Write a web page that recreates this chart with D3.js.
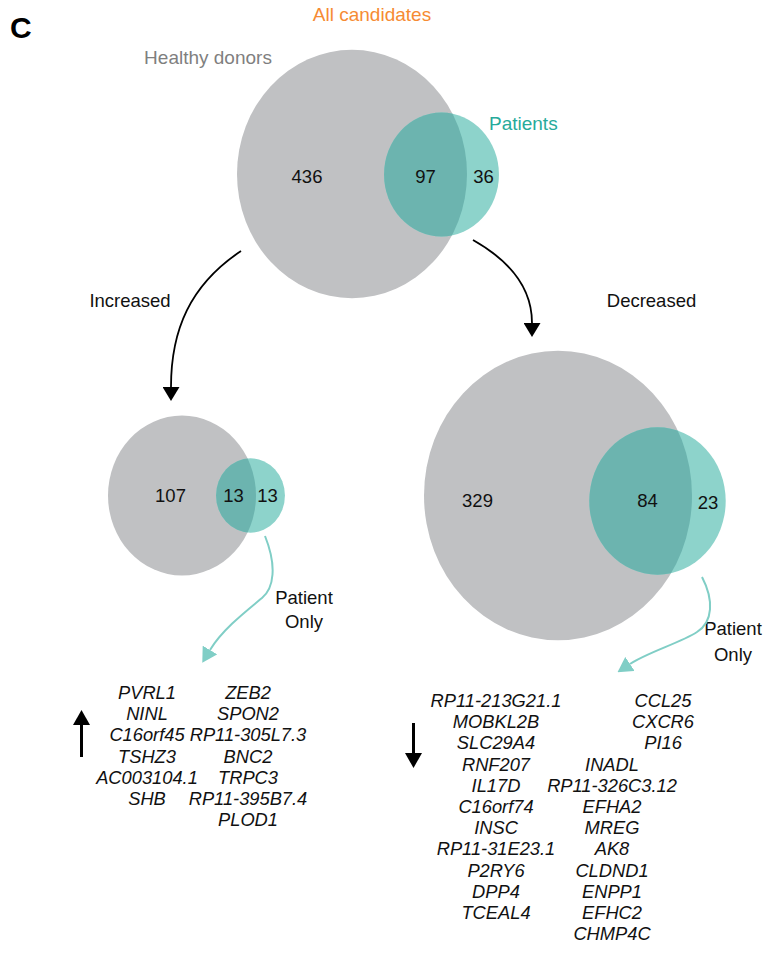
<!DOCTYPE html>
<html>
<head>
<meta charset="utf-8">
<script src="https://cdn.jsdelivr.net/npm/d3@7"></script>
<style>
  html, body { margin: 0; padding: 0; background: #ffffff; }
  svg { display: block; }
  text { font-family: "Liberation Sans", Arial, sans-serif; }
</style>
</head>
<body>
<div id="chart"></div>
<script>
// ---------------- DATA ----------------
const vennNames = ["All candidates", "Increased", "Decreased"];
const setNames = ["Healthy donors", "Patients"];
const healthyOnly = [436, 107, 329];
const shared = [97, 13, 84];
const patientOnly = [36, 13, 23];
const subsetLabels = ["Patient Only", "Patient Only"];

const upGenesCol1 = ["PVRL1", "NINL", "C16orf45", "TSHZ3", "AC003104.1", "SHB"];
const upGenesCol2 = ["ZEB2", "SPON2", "RP11-305L7.3", "BNC2", "TRPC3", "RP11-395B7.4", "PLOD1"];
const downGenesCol1 = ["RP11-213G21.1", "MOBKL2B", "SLC29A4", "RNF207", "IL17D", "C16orf74",
                       "INSC", "RP11-31E23.1", "P2RY6", "DPP4", "TCEAL4"];
const downGenesCol2Top = ["CCL25", "CXCR6", "PI16"];
const downGenesCol2Bottom = ["INADL", "RP11-326C3.12", "EFHA2", "MREG", "AK8", "CLDND1",
                             "ENPP1", "EFHC2", "CHMP4C"];

// ---------------- LAYOUT ----------------
const W = 782, H = 955;
const SY = 1.08; // vertical stretch of the circles
const COL = {
  gray: "#c0c1c3",
  teal: "#8dd3cb",
  overlap: "#6cb4af",
  orange: "#f68b33",
  tealText: "#27aa9b",
  grayText: "#7f7f7f",
  tealArrow: "#80cec6"
};
// per-venn geometry: healthy centre, patient centre, max radius, number label x's, label y
const vennLayout = [
  { hx: 352, hy: 174,   px: 441.5, py: 174.5, rMax: 115, nx: [307, 425.5, 483.5], ny: [183, 183, 183] },
  { hx: 182, hy: 495.5, px: 250.5, py: 495.5, rMax: 74,  nx: [170.5, 233.5, 267.5], ny: [502, 502, 502] },
  { hx: 558, hy: 495.5, px: 657.5, py: 501,   rMax: 134, nx: [477.5, 647.5, 708], ny: [507, 507, 509] }
];

const svg = d3.select("#chart").append("svg")
  .attr("width", W).attr("height", H)
  .attr("viewBox", `0 0 ${W} ${H}`);

const defs = svg.append("defs");

function addMarker(id, color, len, wid) {
  defs.append("marker")
    .attr("id", id)
    .attr("viewBox", `0 0 ${len} ${wid}`)
    .attr("refX", 0).attr("refY", wid / 2)
    .attr("markerUnits", "userSpaceOnUse")
    .attr("markerWidth", len).attr("markerHeight", wid)
    .attr("orient", "auto")
    .append("path")
    .attr("d", `M0,0 L${len},${wid / 2} L0,${wid} Z`)
    .attr("fill", color);
}
addMarker("arrBlack", "#000", 14, 17);
addMarker("arrTeal", COL.tealArrow, 15, 17);
addMarker("arrBold", "#000", 15, 17);

// ---------------- VENNS ----------------
vennLayout.forEach((L, i) => {
  const total = healthyOnly[i] + shared[i];
  const patTotal = shared[i] + patientOnly[i];
  const r = d3.scaleSqrt().domain([0, total]).range([0, L.rMax]);
  const rH = r(total), rP = r(patTotal);

  const g = svg.append("g");
  const clipId = "clipH" + i;
  defs.append("clipPath").attr("id", clipId)
    .append("ellipse")
    .attr("cx", L.hx).attr("cy", L.hy).attr("rx", rH).attr("ry", rH * SY);

  g.append("ellipse")
    .attr("cx", L.hx).attr("cy", L.hy).attr("rx", rH).attr("ry", rH * SY)
    .attr("fill", COL.gray);
  g.append("ellipse")
    .attr("cx", L.px).attr("cy", L.py).attr("rx", rP).attr("ry", rP * SY)
    .attr("fill", COL.teal);
  g.append("ellipse")
    .attr("cx", L.px).attr("cy", L.py).attr("rx", rP).attr("ry", rP * SY)
    .attr("fill", COL.overlap)
    .attr("clip-path", `url(#${clipId})`);

  const nums = [healthyOnly[i], shared[i], patientOnly[i]];
  g.selectAll("text.num").data(nums).join("text")
    .attr("class", "num")
    .attr("x", (d, j) => L.nx[j])
    .attr("y", (d, j) => L.ny[j])
    .attr("text-anchor", "middle")
    .attr("font-size", 18.5)
    .attr("fill", "#111")
    .text(d => d);
});

// ---------------- LABELS ----------------
svg.append("text").attr("x", 10).attr("y", 38)
  .attr("font-size", 30).attr("font-weight", "bold").attr("fill", "#000").text("C");

svg.append("text").attr("x", 372).attr("y", 21).attr("text-anchor", "middle")
  .attr("font-size", 19).attr("fill", COL.orange).text(vennNames[0]);
svg.append("text").attr("x", 208).attr("y", 64).attr("text-anchor", "middle")
  .attr("font-size", 19).attr("fill", COL.grayText).text(setNames[0]);
svg.append("text").attr("x", 489).attr("y", 130).attr("text-anchor", "start")
  .attr("font-size", 19).attr("fill", COL.tealText).text(setNames[1]);

svg.append("text").attr("x", 130).attr("y", 307).attr("text-anchor", "middle")
  .attr("font-size", 18.5).attr("fill", "#111").text(vennNames[1]);
svg.append("text").attr("x", 651.5).attr("y", 307).attr("text-anchor", "middle")
  .attr("font-size", 18.5).attr("fill", "#111").text(vennNames[2]);

const poPos = [{ x: 304, y: [604, 628] }, { x: 733, y: [635, 661] }];
poPos.forEach((p, i) => {
  const words = subsetLabels[i].split(" ");
  svg.append("text").attr("text-anchor", "middle").attr("font-size", 18.5).attr("fill", "#111")
    .selectAll("tspan").data(words).join("tspan")
    .attr("x", p.x).attr("y", (d, j) => p.y[j]).text(d => d);
});

// ---------------- ARROWS ----------------
const curves = [
  { d: "M241,251 C190,285 171,330 171,387", color: "#000", w: 1.8, m: "arrBlack" },
  { d: "M473,240 C512,262 532,290 532,323", color: "#000", w: 1.8, m: "arrBlack" },
  { d: "M265,536 C277,566 274,588 262,598 C245,612 222,630 210,650", color: COL.tealArrow, w: 2, m: "arrTeal" },
  { d: "M702,577 C714,600 713,622 697,632 C680,643 648,652 630,664", color: COL.tealArrow, w: 2, m: "arrTeal" },
  { d: "M81.5,757 L81.5,725", color: "#000", w: 3, m: "arrBold" },
  { d: "M413.5,723 L413.5,753", color: "#000", w: 3, m: "arrBold" }
];
svg.selectAll("path.arrow").data(curves).join("path")
  .attr("class", "arrow")
  .attr("d", c => c.d)
  .attr("fill", "none")
  .attr("stroke", c => c.color)
  .attr("stroke-width", c => c.w)
  .attr("marker-end", c => `url(#${c.m})`);

// ---------------- GENE LISTS ----------------
const step = 21.2;
function geneColumn(list, x, y0) {
  svg.append("g").selectAll("text").data(list).join("text")
    .attr("x", x)
    .attr("y", (d, i) => y0 + i * step)
    .attr("text-anchor", "middle")
    .attr("font-size", 18.3)
    .attr("font-style", "italic")
    .attr("fill", "#111")
    .text(d => d);
}
geneColumn(upGenesCol1, 147, 699);
geneColumn(upGenesCol2, 248, 699);
geneColumn(downGenesCol1, 496, 707);
geneColumn(downGenesCol2Top, 663, 707);
geneColumn(downGenesCol2Bottom, 612, 707 + 3 * step);
</script>
</body>
</html>
